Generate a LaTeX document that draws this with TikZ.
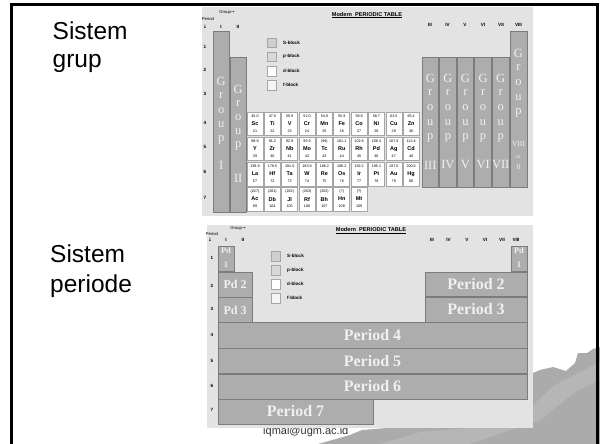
\documentclass[tikz,border=0pt]{standalone}
\usepackage{fontspec}
\setmainfont{Liberation Serif}
\setsansfont{Liberation Sans}
\newfontfamily\arrowfont{DejaVu Sans}
\definecolor{imgbg}{HTML}{E3E3E3}
\definecolor{colfill}{HTML}{ADADAD}
\definecolor{coledge}{HTML}{7C7C7C}
\definecolor{celledge}{HTML}{A6A6A6}
\definecolor{lettr}{HTML}{F0F0F0}
\definecolor{mtn}{HTML}{ABABAB}
\definecolor{mtnlight}{HTML}{B6B6B6}
\definecolor{sblk}{HTML}{CFCFCF}
\definecolor{pblk}{HTML}{D8D8D8}
\definecolor{fblk}{HTML}{F5F5F5}
\begin{document}
\begin{tikzpicture}[x=1pt,y=-1pt,
  groupcol/.style={draw=coledge,line width=1pt,fill=colfill},
  glet/.style={text=lettr,font=\fontsize{12.5}{12.5}\selectfont,inner sep=0},
  cellbox/.style={draw=celledge,line width=0.6pt,fill=white},
  tinyt/.style={font=\sffamily\fontsize{3.7}{3.7}\selectfont,inner sep=0},
  sym/.style={font=\sffamily\bfseries\fontsize{5.5}{5.5}\selectfont,inner sep=0},
  hdr/.style={font=\sffamily\bfseries\fontsize{4.6}{4.6}\selectfont,inner sep=0},
  legbox/.style={draw=celledge,line width=0.6pt},
  leglab/.style={font=\sffamily\bfseries\fontsize{4.6}{4.6}\selectfont,anchor=west,inner sep=0},
  perbox/.style={draw=coledge,line width=1pt,fill=colfill},
  ptext/.style={text=lettr,font=\bfseries\fontsize{16}{16}\selectfont,inner sep=0},
  bigtext/.style={font=\sffamily\fontsize{24.5}{24.5}\selectfont,anchor=base west,inner sep=0}]
\useasboundingbox (0,0) rectangle (600,444);
\fill[white] (0,0) rectangle (600,444);
% mountain
\fill[mtn] (318,444) -- (350,435) -- (362,430) -- (400,427) -- (533,400) -- (533,373) -- (540,370) -- (553,367) -- (566,371) -- (575,363) -- (578,353) -- (587,353) -- (593,349) -- (600,347) -- (600,444) -- cycle;
\fill[mtnlight] (380,444) -- (420,432) -- (470,428) -- (533,405) -- (555,385) -- (580,372) -- (600,362) -- (600,380) -- (575,392) -- (540,420) -- (470,444) -- cycle;
% frame
\draw[line width=2.6pt] (11.3,444) -- (11.3,4.6) -- (597.7,4.6) -- (597.7,444);
% left texts
\node[bigtext] (t1) at (52.5,40) {Sistem};
\node[bigtext] (t2) at (52.5,68) {grup};
\node[bigtext] (t3) at (50,262) {Sistem};
\node[bigtext] (t4) at (50,292) {periode};
% email
\node[font=\sffamily\fontsize{11}{11}\selectfont,anchor=base west,inner sep=0,text=black!80] (mail) at (263,434.8) {iqmal@ugm.ac.id};

% ================= image 1: groups =================
\fill[imgbg] (201.5,7.5) rectangle (533,216);
\node[hdr,font=\sffamily\fontsize{4.2}{4.2}\selectfont] (g1) at (227,12) {Group{\arrowfont→}};
\node[hdr,font=\sffamily\fontsize{4.2}{4.2}\selectfont] (p1) at (208,19) {Period};
\node[hdr] (a1) at (205,27) {\arrowfont↓};
\node[hdr] (r1a) at (221,27) {I};
\node[hdr] (r1b) at (238,27) {II};
\node[font=\sffamily\bfseries\fontsize{5.6}{5.6}\selectfont,inner sep=0] (ti1) at (367,15) {\underline{Modern\ \ PERIODIC TABLE}};
\foreach \cx/\rn [count=\j] in {430/III,447.5/IV,465/V,483/VI,501/VII,518.5/VIII}
  \node[hdr] (rh1-\j) at (\cx,25) {\rn};
\foreach \py [count=\j] in {47,70,94,123,147,172,198}
  \node[hdr] (pn1-\j) at (205,\py) {\j};
% legend
\foreach \yy/\ff/\lab [count=\j] in {38/sblk/S-block,52/pblk/p-block,66.5/white/d-block,80.5/fblk/f-block}{
  \path[legbox,fill=\ff] (267,\yy) rectangle ++(9,9.5);
  \node[leglab] (lg1-\j) at (283,\yy+4.8) {\lab};
}
% group columns
\path[groupcol] (213,32) rectangle (229.5,212);
\path[groupcol] (230,58) rectangle (246.5,212);
\foreach \k in {0,...,4}{
  \path[groupcol] (422+\k*17.6,58) rectangle ++(16.6,129);
}
\path[groupcol] (510,32) rectangle (527,187);
% letters
\foreach \L [count=\k from 0] in {G,r,o,u,p}{
  \node[glet] (gI-\k) at (221.2,81+\k*14.6) {\L};
  \node[glet] (gII-\k) at (238.2,89+\k*14.2) {\L};
  \node[glet] (gVIII-\k) at (518.5,53+\k*15) {\L};
}
\node[glet] (gI-n) at (221.2,165) {I};
\node[glet] (gII-n) at (238.2,178) {II};
\foreach \rn [count=\j from 0] in {III,IV,V,VI,VII}{
  \foreach \L [count=\k from 0] in {G,r,o,u,p}
    \node[glet] (g\rn-\k) at (430.3+\j*17.6,78+\k*15) {\L};
  \node[glet] (g\rn-n) at (430.3+\j*17.6,165) {\rn};
}
\node[glet,font=\fontsize{7.5}{7.5}\selectfont] (gVIII-n) at (518.5,144) {VIII};
\node[glet,font=\fontsize{5.5}{5.5}\selectfont] (gVIII-o) at (518.5,157) {or};
\node[glet,font=\fontsize{8}{8}\selectfont] (gVIII-z) at (518.5,167) {0};
% element cells
\foreach \m/\s/\n [count=\i from 0] in {45.0/Sc/21,47.9/Ti/22,50.9/V/23,52.0/Cr/24,54.9/Mn/25,55.9/Fe/26,58.9/Co/27,58.7/Ni/28,63.5/Cu/29,65.4/Zn/30}{
  \path[cellbox] (247+\i*17.35,112) rectangle ++(16,23.5);
  \node[tinyt] (m4-\i) at (255+\i*17.35,116) {\m};
  \node[sym] (s4-\i) at (255+\i*17.35,123.5) {\s};
  \node[tinyt] (n4-\i) at (255+\i*17.35,131) {\n};
}
\foreach \m/\s/\n [count=\i from 0] in {88.9/Y/39,91.2/Zr/40,92.9/Nb/41,95.9/Mo/42,(99)/Tc/43,101.1/Ru/44,102.9/Rh/45,106.4/Pd/46,107.9/Ag/47,112.4/Cd/48}{
  \path[cellbox] (247+\i*17.35,137.2) rectangle ++(16,23.5);
  \node[tinyt] (m5-\i) at (255+\i*17.35,141.2) {\m};
  \node[sym] (s5-\i) at (255+\i*17.35,148.7) {\s};
  \node[tinyt] (n5-\i) at (255+\i*17.35,156.2) {\n};
}
\foreach \m/\s/\n [count=\i from 0] in {138.9/La/57,178.5/Hf/72,181.0/Ta/73,183.9/W/74,186.2/Re/75,190.2/Os/76,192.2/Ir/77,195.1/Pt/78,197.0/Au/79,200.6/Hg/80}{
  \path[cellbox] (247+\i*17.35,162.4) rectangle ++(16,23.5);
  \node[tinyt] (m6-\i) at (255+\i*17.35,166.4) {\m};
  \node[sym] (s6-\i) at (255+\i*17.35,173.9) {\s};
  \node[tinyt] (n6-\i) at (255+\i*17.35,181.4) {\n};
}
\foreach \m/\s/\n [count=\i from 0] in {(227)/Ac/89,(261)/Db/104,(262)/Jl/105,(263)/Rf/106,(262)/Bh/107,(?)/Hn/108,(?)/Mt/109}{
  \path[cellbox] (247+\i*17.35,187.6) rectangle ++(16,23.5);
  \node[tinyt] (m7-\i) at (255+\i*17.35,191.6) {\m};
  \node[sym] (s7-\i) at (255+\i*17.35,199.1) {\s};
  \node[tinyt] (n7-\i) at (255+\i*17.35,206.6) {\n};
}

% ================= image 2: periods =================
\fill[imgbg] (207,225) rectangle (533,428);
\node[hdr,font=\sffamily\fontsize{4.2}{4.2}\selectfont] (g2) at (238,228.5) {Group{\arrowfont→}};
\node[hdr,font=\sffamily\fontsize{4.2}{4.2}\selectfont] (p2) at (212,233.5) {Period};
\node[hdr] (a2) at (210,239.5) {\arrowfont↓};
\node[hdr] (r2a) at (226,239.5) {I};
\node[hdr] (r2b) at (243,239.5) {II};
\node[font=\sffamily\bfseries\fontsize{5.6}{5.6}\selectfont,inner sep=0] (ti2) at (371,230.5) {\underline{Modern\ \ PERIODIC TABLE}};
\foreach \cx/\rn [count=\j] in {432/III,448.5/IV,467/V,485/VI,502/VII,516/VIII}
  \node[hdr] (rh2-\j) at (\cx,240) {\rn};
\foreach \py [count=\j] in {258,286,309,335,361,386,410}
  \node[hdr] (pn2-\j) at (212,\py) {\j};
\foreach \yy/\ff/\lab [count=\j] in {251/sblk/S-block,265/pblk/p-block,279/white/d-block,293/fblk/f-block}{
  \path[legbox,fill=\ff] (271,\yy) rectangle ++(9,10.5);
  \node[leglab] (lg2-\j) at (287,\yy+5.2) {\lab};
}
% period boxes
\path[perbox] (218,246) rectangle (234,271);
\path[perbox] (511,246) rectangle (527,271);
\path[perbox] (218,272) rectangle (252,297);
\path[perbox] (218,297.5) rectangle (252,322);
\path[perbox] (425,272) rectangle (527,296.5);
\path[perbox] (425,297) rectangle (527,322);
\path[perbox] (218,322.5) rectangle (527,348);
\path[perbox] (218,348.5) rectangle (527,373.5);
\path[perbox] (218,374) rectangle (527,399);
\path[perbox] (218,399.5) rectangle (373,424);
\node[ptext,font=\bfseries\fontsize{8.5}{8.5}\selectfont] (pd1a) at (226,251) {Pd};
\node[ptext,font=\bfseries\fontsize{8.5}{8.5}\selectfont] (pd1b) at (226,264.5) {1};
\node[ptext,font=\bfseries\fontsize{8.5}{8.5}\selectfont] (pd1c) at (519,251) {Pd};
\node[ptext,font=\bfseries\fontsize{8.5}{8.5}\selectfont] (pd1d) at (519,264.5) {1};
\node[ptext,font=\bfseries\fontsize{12}{12}\selectfont] (pd2) at (235,284.5) {Pd 2};
\node[ptext,font=\bfseries\fontsize{12}{12}\selectfont] (pd3) at (235,310) {Pd 3};
\node[ptext] (per2) at (476,284.5) {Period 2};
\node[ptext] (per3) at (476,309.5) {Period 3};
\node[ptext] (per4) at (372.5,335.5) {Period 4};
\node[ptext] (per5) at (372.5,361) {Period 5};
\node[ptext] (per6) at (372.5,386.5) {Period 6};
\node[ptext] (per7) at (295.5,411.5) {Period 7};
\end{tikzpicture}
\end{document}
